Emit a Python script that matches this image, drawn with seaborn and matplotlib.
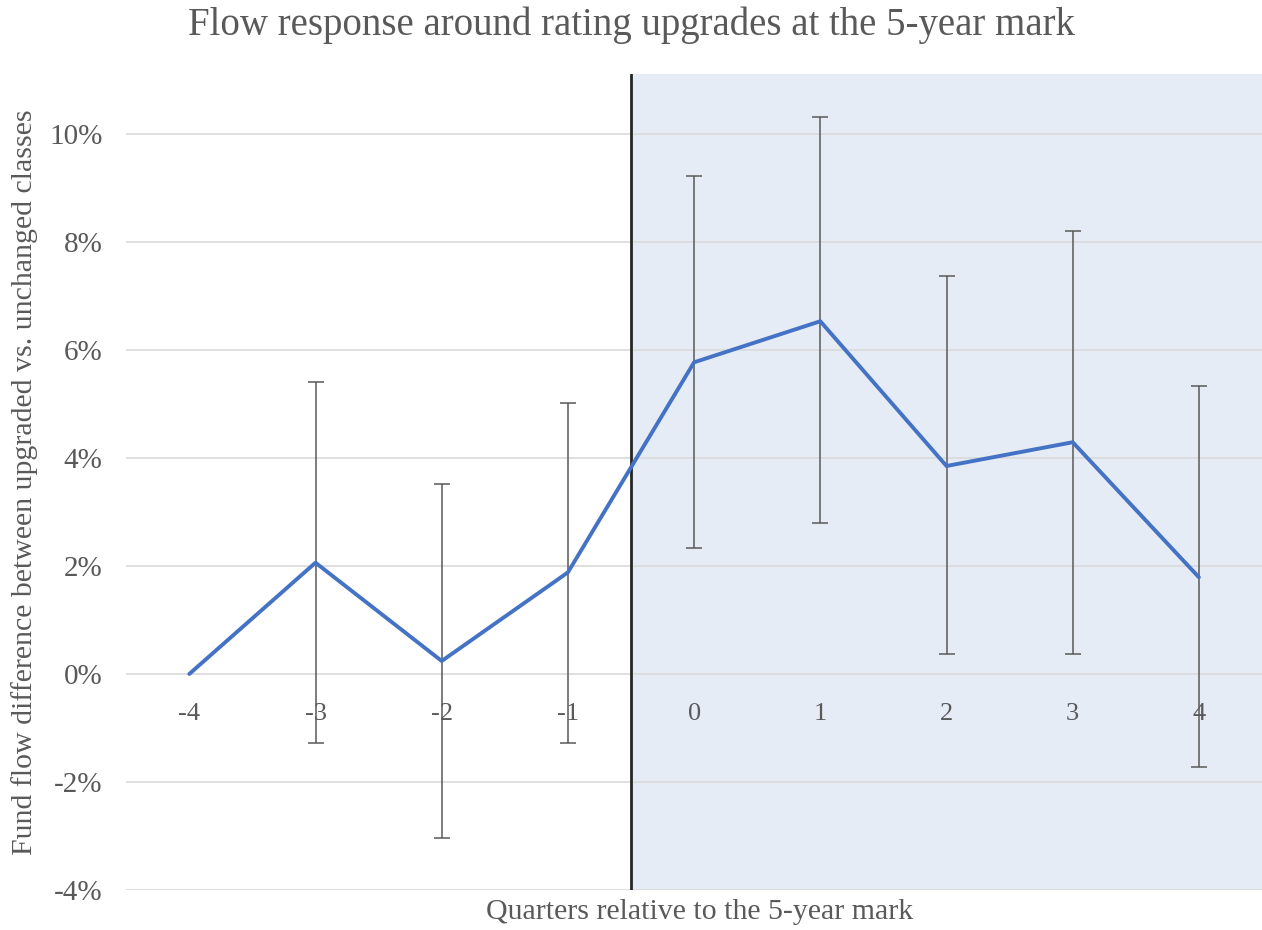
import numpy as np
import pandas as pd
import seaborn as sns
import matplotlib.pyplot as plt
from matplotlib.ticker import PercentFormatter

# quarters relative to the 5-year mark and flow difference (in %)
quarters = [-4, -3, -2, -1, 0, 1, 2, 3, 4]
flow_diff = [0.0, 2.06, 0.24, 1.88, 5.77, 6.53, 3.85, 4.29, 1.79]
ci_low = [np.nan, -1.27, -3.04, -1.27, 2.34, 2.79, 0.37, 0.37, -1.73]
ci_high = [np.nan, 5.41, 3.52, 5.02, 9.21, 10.31, 7.36, 8.21, 5.33]
y_ticks = [-4, -2, 0, 2, 4, 6, 8, 10]

df = pd.DataFrame({"quarter": quarters, "diff": flow_diff, "lo": ci_low, "hi": ci_high})

sns.set_style("white")
plt.rcParams['font.family'] = ['Liberation Serif', 'DejaVu Serif']
plt.rcParams['axes.unicode_minus'] = False

text_gray = '#595959'
line_blue = '#4472C4'

fig = plt.figure(figsize=(12.62, 9.3), dpi=100)
ax = fig.add_axes([0.1, 0.043, 0.9, 0.877])

# post-event shading + event line
ax.axvspan(-0.5, 4.5, color='#E6ECF6', zorder=0, lw=0)
ax.axvline(-0.5, color='#262626', lw=2, zorder=3)

# gridlines
for t in y_ticks:
    ax.axhline(t, color='#D9D9D9', lw=1.2, zorder=1)

# error bars
ax.errorbar(df['quarter'], df['diff'],
            yerr=[df['diff'] - df['lo'], df['hi'] - df['diff']],
            fmt='none', ecolor='#595959', elinewidth=1.1, capsize=6, capthick=1.1, zorder=4)

sns.lineplot(data=df, x='quarter', y='diff', color=line_blue, lw=2.8, ax=ax, zorder=5)

ax.set_xlim(-4.5, 4.5)
ax.set_ylim(-4, 11.1)
ax.set_yticks(y_ticks)
ax.yaxis.set_major_formatter(PercentFormatter(100, decimals=0))
ax.set_xticks(quarters)
ax.set_xticklabels([str(q) for q in quarters])

for s in ['top', 'right', 'left']:
    ax.spines[s].set_visible(False)
ax.spines['bottom'].set_position(('data', 0))
ax.spines['bottom'].set_visible(False)
ax.tick_params(axis='x', length=0, pad=21, labelsize=19, labelcolor=text_gray)
ax.tick_params(axis='y', length=0, pad=17, labelsize=21, labelcolor=text_gray)

ax.set_xlabel('')
ax.set_ylabel('Fund flow difference between upgraded vs. unchanged classes',
              fontsize=21.5, color=text_gray, labelpad=8)
fig.text(0.5547, 0.019, 'Quarters relative to the 5-year mark', ha='center', va='center',
         fontsize=21.5, color=text_gray)
fig.suptitle('Flow response around rating upgrades at the 5-year mark',
             fontsize=28, color=text_gray, y=0.993)

plt.savefig('out.png', dpi=100)
